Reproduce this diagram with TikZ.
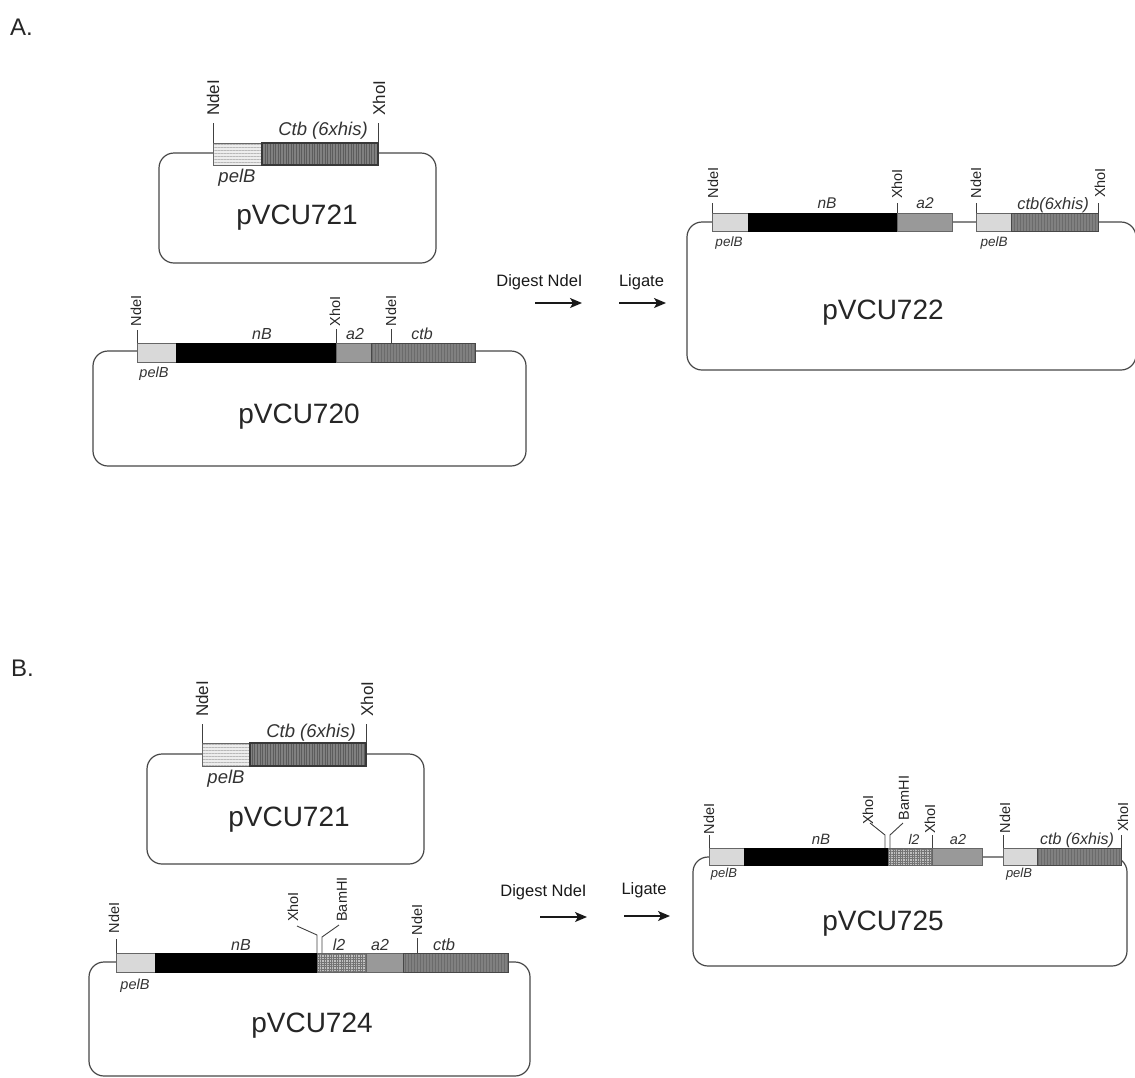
\documentclass[tikz,border=0pt]{standalone}
\usepackage{fontspec}
\setmainfont{Liberation Sans}
\usetikzlibrary{arrows.meta,patterns.meta}
\tikzset{
  plasmid/.style={draw=black!72,line width=1.2pt,fill=white,rounded corners=15pt,inner sep=0pt},
  pname/.style={font=\fontsize{28}{32}\selectfont,text=black!85,inner sep=0pt},
  gene/.style={font=\fontsize{#1}{20}\selectfont\itshape,text=black!80,inner sep=0pt},
  gene/.default=14,
  sitetext/.style={font=\fontsize{#1}{18}\selectfont,rotate=90,text=black!85,inner sep=0pt},
  sitetext/.default=14.5,
  siteline/.style={draw=black!75,line width=.9pt},
  seg/.style={draw=black!60,line width=.9pt},
  pelplain/.style={seg,fill=black!15},
  pelstripe/.style={seg,preaction={fill=black!7},pattern={Lines[angle=0,distance=3pt,line width=.5pt]},pattern color=black!28},
  blackseg/.style={seg,fill=black,draw=black},
  aseg/.style={seg,fill=black!40},
  ctbseg/.style={draw=black!72,line width=1pt,preaction={fill=black!50},pattern={Lines[angle=90,distance=3pt,line width=.7pt]},pattern color=black!58},
  ctbdark/.style={draw=black!78,line width=1.1pt,preaction={fill=black!50},pattern={Lines[angle=90,distance=2.6pt,line width=1pt]},pattern color=black!64},
  lseg/.style={seg,preaction={fill=black!25},pattern={Hatch[angle=0,distance=2.4pt,line width=.5pt]},pattern color=black!55},
  flow/.style={-{Stealth[length=12pt,width=10pt,inset=3pt]},line width=1.4pt,draw=black!90},
  steptext/.style={font=\fontsize{16.5}{20}\selectfont,text=black!90,inner sep=0pt},
  panel/.style={font=\fontsize{24}{28}\selectfont,text=black!85,inner sep=0pt},
}
% name, x, y on the bar, y top of the tick, label x, label y, label, size
\newcommand{\rsite}[8]{%
  \coordinate (#1b) at (#2,#3);
  \coordinate (#1t) at (#2,#4);
  \node[sitetext=#8] (#1) at (#5,#6) {#7};
  \draw[siteline] (#1b) -- (#1t);
}
% name, x bar, y bar, y bend, x end, y end, label x, label y, label
\newcommand{\bentsite}[9]{%
  \coordinate (#1b) at (#2,#3);
  \coordinate (#1m) at (#2,#4);
  \coordinate (#1e) at (#5,#6);
  \node[sitetext] (#1) at (#7,#8) {#9};
  \draw[siteline] (#1b) -- (#1m) -- (#1e);
}
\begin{document}
\begin{tikzpicture}[x=1pt,y=-1pt]
\useasboundingbox (0,0) rectangle (1135,1077);
\clip (0,0) rectangle (1135,1077);
\node[panel] (lblA) at (21.5,27) {A.};
\node[panel] (lblB) at (22.5,668) {B.};

% ---- pVCU721 (A)
\node[plasmid,minimum width=277pt,minimum height=110pt] (p721a) at (297.5,208) {};
\draw[pelstripe] (213,143) rectangle (262,165);
\draw[ctbdark] (262,143) rectangle (378,165);
\rsite{a1}{213}{143}{123}{213}{98}{NdeI}{17}
\rsite{a2}{378}{143}{123}{379}{98}{XhoI}{17}
\node[gene=18.5] (a1c) at (323,131) {Ctb (6xhis)};
\node[gene=18.5] (a1p) at (237,178) {pelB};
\node[pname] (a1n) at (297,218) {pVCU721};

% ---- pVCU720
\node[plasmid,minimum width=433pt,minimum height=115pt] (p720) at (309.5,408.5) {};
\draw[pelplain] (137,343) rectangle (176,362);
\draw[blackseg] (176,343) rectangle (336,362);
\draw[aseg] (336,343) rectangle (371,362);
\draw[ctbseg] (371,343) rectangle (475,362);
\rsite{b1}{137}{343}{330}{136}{311}{NdeI}{14.5}
\rsite{b2}{336}{343}{329}{335}{311.5}{XhoI}{14.5}
\rsite{b3}{391}{343}{329}{391}{311}{NdeI}{14.5}
\node[gene=16] (b1g) at (262,334) {nB};
\node[gene=16] (b2g) at (355,334) {a2};
\node[gene=16] (b3g) at (422,334) {ctb};
\node[gene=14.5] (b1p) at (154,373.5) {pelB};
\node[pname] (b1n) at (299,417) {pVCU720};

% ---- pVCU722
\node[plasmid,minimum width=449pt,minimum height=148pt] (p722) at (911.5,296) {};
\draw[pelplain] (712,213) rectangle (748,231);
\draw[blackseg] (748,213) rectangle (897,231);
\draw[aseg] (897,213) rectangle (952,231);
\draw[pelplain] (976,213) rectangle (1011,231);
\draw[ctbseg] (1011,213) rectangle (1098,231);
\rsite{c1}{712}{213}{203}{713}{183}{NdeI}{14.5}
\rsite{c2}{897}{213}{203}{897}{184}{XhoI}{14.5}
\rsite{c3}{976}{213}{203}{976}{183}{NdeI}{14.5}
\rsite{c4}{1098}{213}{203}{1100}{183}{XhoI}{14.5}
\node[gene=15.5] (c1g) at (827,203) {nB};
\node[gene=15.5] (c2g) at (925,203) {a2};
\node[gene=16.5] (c3g) at (1053,205) {ctb(6xhis)};
\node[gene=13.5] (c1p) at (729,243.5) {pelB};
\node[gene=13.5] (c2p) at (994,243.5) {pelB};
\node[pname] (c1n) at (883,313) {pVCU722};

% ---- arrows (A)
\node[steptext] (d1) at (539.5,282) {Digest NdeI};
\node[steptext] (l1) at (641.5,282) {Ligate};
\coordinate (d1s) at (535,303); \coordinate (d1e) at (582,303);
\coordinate (l1s) at (619,303); \coordinate (l1e) at (666,303);
\draw[flow] (d1s) -- (d1e);
\draw[flow] (l1s) -- (l1e);

% ---- pVCU721 (B)
\node[plasmid,minimum width=277pt,minimum height=110pt] (p721b) at (285.5,809) {};
\draw[pelstripe] (202,743) rectangle (250,766);
\draw[ctbdark] (250,743) rectangle (366,766);
\rsite{e1}{202}{743}{724}{202}{699}{NdeI}{17}
\rsite{e2}{366}{743}{724}{367}{699}{XhoI}{17}
\node[gene=18.5] (e1c) at (311,733) {Ctb (6xhis)};
\node[gene=18.5] (e1p) at (226,779) {pelB};
\node[pname] (e1n) at (289,820) {pVCU721};

% ---- pVCU724
\node[plasmid,minimum width=441pt,minimum height=114pt] (p724) at (309.5,1019) {};
\draw[pelplain] (116,953) rectangle (155,972);
\draw[blackseg] (155,953) rectangle (317,972);
\draw[lseg] (317,953) rectangle (366,972);
\draw[aseg] (366,953) rectangle (403,972);
\draw[ctbseg] (403,953) rectangle (508,972);
\rsite{f1}{116}{953}{939}{114}{918}{NdeI}{14.5}
\bentsite{f2}{317}{953}{935}{297}{926}{293}{907}{XhoI}
\bentsite{f3}{322}{953}{937}{339}{925}{342}{899.5}{BamHI}
\rsite{f4}{417}{953}{938}{417}{920}{NdeI}{14.5}
\node[gene=16] (f1g) at (241,945) {nB};
\node[gene=16] (f2g) at (339,945) {l2};
\node[gene=16] (f3g) at (380,945) {a2};
\node[gene=16.5] (f4g) at (444,945) {ctb};
\node[gene=14.5] (f1p) at (135,985.5) {pelB};
\node[pname] (f1n) at (312,1026) {pVCU724};

% ---- pVCU725
\node[plasmid,minimum width=434pt,minimum height=109pt] (p725) at (910,911.5) {};
\draw[pelplain] (709,848) rectangle (744,865);
\draw[blackseg] (744,848) rectangle (888,865);
\draw[lseg] (888,848) rectangle (932,865);
\draw[aseg] (932,848) rectangle (982,865);
\draw[pelplain] (1003,848) rectangle (1037,865);
\draw[ctbseg] (1037,848) rectangle (1121,865);
\rsite{g1}{709}{848}{835}{709}{819}{NdeI}{14.5}
\bentsite{g2}{885}{848}{835}{870}{823}{868}{810}{XhoI}
\bentsite{g3}{890}{848}{835}{903}{823}{904}{798}{BamHI}
\rsite{g4}{932}{848}{835}{930}{819}{XhoI}{14.5}
\rsite{g5}{1003}{848}{835}{1005}{818}{NdeI}{14.5}
\rsite{g6}{1121}{848}{835}{1123}{817}{XhoI}{14.5}
\node[gene=15] (g1g) at (821,839) {nB};
\node[gene=14] (g2g) at (914,839) {l2};
\node[gene=14.5] (g3g) at (958,839) {a2};
\node[gene=16] (g4g) at (1077,840) {ctb (6xhis)};
\node[gene=13] (g1p) at (724,874.5) {pelB};
\node[gene=13] (g2p) at (1019,874.5) {pelB};
\node[pname] (g1n) at (883,924) {pVCU725};

% ---- arrows (B)
\node[steptext] (d2) at (543.5,892) {Digest NdeI};
\node[steptext] (l2) at (644,890) {Ligate};
\coordinate (d2s) at (540,917); \coordinate (d2e) at (587,917);
\coordinate (l2s) at (624,916); \coordinate (l2e) at (670,916);
\draw[flow] (d2s) -- (d2e);
\draw[flow] (l2s) -- (l2e);
\end{tikzpicture}
\end{document}
